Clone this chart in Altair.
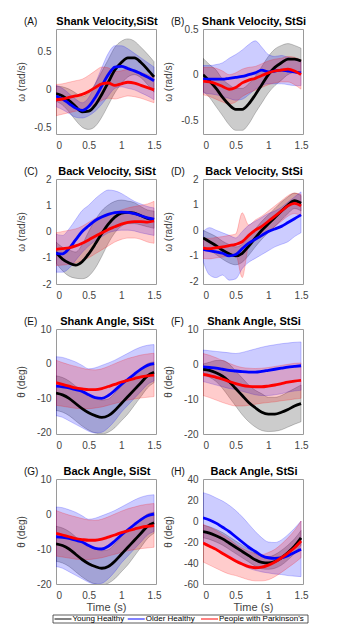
import altair as alt
import pandas as pd

FONT = "Liberation Sans"

T = [0.0, 0.1, 0.2, 0.3, 0.4, 0.5, 0.6, 0.7, 0.8, 0.9, 1.0, 1.1, 1.2, 1.3, 1.4, 1.5]
GROUPS = ["Young Healthy", "Older Healthy", "People with Parkinson's"]
COLORS = ["#000000", "#0000ff", "#ff0000"]

LETTERS = ["(A)", "(B)", "(C)", "(D)", "(E)", "(F)", "(G)", "(H)"]
TITLES = ["Shank Velocity,SiSt", "Shank Velocity, StSi", "Back Velocity, SiSt", "Back Velocity, StSi",
          "Shank Angle, SiSt", "Shank Angle, StSi", "Back Angle, SiSt", "Back Angle, StSi"]
Y_TITLES = ["ω (rad/s)", "ω (rad/s)", "ω (rad/s)", "ω (rad/s)", "θ (deg)", "θ (deg)", "θ (deg)", "θ (deg)"]
Y_TICKS = [[-0.5, 0, 0.5], [-0.5, 0, 0.5], [-2, -1, 0, 1, 2], [-2, -1, 0, 1, 2],
           [-20, -10, 0, 10], [-20, -10, 0, 10], [-20, -10, 0, 10], [-60, -40, -20, 0, 20, 40]]
Y_DOMAINS = [[-0.58, 0.8], [-0.65, 0.5], [-2, 2], [-2.1, 2], [-20.3, 10], [-20, 10], [-20, 10], [-60, 40]]
X_TICKS = [0, 0.5, 1, 1.5]

# ---- (A) Shank Velocity, SiSt ----
MEAN_A = {
    "Young Healthy": [-0.05, -0.08, -0.14, -0.22, -0.29, -0.28, -0.20, -0.06, 0.10, 0.26, 0.36, 0.42, 0.42, 0.36, 0.27, 0.17],
    "Older Healthy": [-0.08, -0.12, -0.18, -0.24, -0.27, -0.22, -0.10, 0.05, 0.20, 0.30, 0.31, 0.28, 0.25, 0.21, 0.17, 0.12],
    "People with Parkinson's": [-0.13, -0.12, -0.10, -0.08, -0.06, -0.02, 0.03, 0.08, 0.09, 0.06, 0.08, 0.10, 0.09, 0.06, 0.03, 0.00],
}
LO_A = {
    "Young Healthy": [-0.15, -0.20, -0.29, -0.40, -0.49, -0.52, -0.48, -0.36, -0.20, -0.04, 0.08, 0.17, 0.20, 0.16, 0.07, -0.03],
    "Older Healthy": [-0.22, -0.26, -0.31, -0.36, -0.37, -0.34, -0.28, -0.19, -0.08, 0.02, 0.04, 0.02, 0.00, -0.04, -0.08, -0.13],
    "People with Parkinson's": [-0.34, -0.32, -0.30, -0.28, -0.26, -0.23, -0.19, -0.14, -0.11, -0.12, -0.10, -0.08, -0.09, -0.11, -0.14, -0.17],
}
HI_A = {
    "Young Healthy": [0.05, 0.04, 0.01, -0.04, -0.09, -0.04, 0.08, 0.24, 0.40, 0.56, 0.64, 0.67, 0.64, 0.56, 0.47, 0.37],
    "Older Healthy": [0.06, 0.02, -0.05, -0.12, -0.17, -0.10, 0.08, 0.29, 0.48, 0.58, 0.58, 0.54, 0.48, 0.42, 0.36, 0.30],
    "People with Parkinson's": [0.07, 0.08, 0.10, 0.12, 0.14, 0.19, 0.25, 0.30, 0.29, 0.24, 0.25, 0.27, 0.26, 0.23, 0.20, 0.17],
}

# ---- (B) Shank Velocity, StSi ----
MEAN_B = {
    "Young Healthy": [0.00, -0.07, -0.15, -0.25, -0.33, -0.38, -0.38, -0.32, -0.22, -0.11, 0.00, 0.08, 0.13, 0.17, 0.17, 0.15],
    "Older Healthy": [-0.05, -0.05, -0.05, -0.05, -0.04, -0.03, -0.02, 0.00, 0.02, 0.05, 0.03, 0.04, 0.05, 0.04, 0.03, 0.02],
    "People with Parkinson's": [-0.07, -0.08, -0.10, -0.13, -0.16, -0.14, -0.09, -0.06, -0.04, -0.01, 0.02, 0.04, 0.05, 0.06, 0.04, 0.00],
}
LO_B = {
    "Young Healthy": [-0.18, -0.25, -0.35, -0.45, -0.55, -0.61, -0.61, -0.54, -0.42, -0.31, -0.20, -0.12, -0.06, 0.00, 0.02, 0.01],
    "Older Healthy": [-0.20, -0.21, -0.22, -0.24, -0.26, -0.28, -0.27, -0.22, -0.16, -0.12, -0.10, -0.10, -0.10, -0.11, -0.12, -0.12],
    "People with Parkinson's": [-0.22, -0.24, -0.27, -0.30, -0.32, -0.30, -0.24, -0.20, -0.17, -0.14, -0.11, -0.09, -0.08, -0.08, -0.11, -0.16],
}
HI_B = {
    "Young Healthy": [0.18, 0.11, 0.05, -0.05, -0.11, -0.15, -0.15, -0.10, -0.02, 0.09, 0.20, 0.28, 0.32, 0.34, 0.32, 0.29],
    "Older Healthy": [0.10, 0.10, 0.11, 0.13, 0.18, 0.22, 0.27, 0.33, 0.37, 0.30, 0.22, 0.20, 0.21, 0.19, 0.17, 0.15],
    "People with Parkinson's": [0.08, 0.08, 0.07, 0.04, 0.00, 0.02, 0.06, 0.08, 0.09, 0.12, 0.15, 0.17, 0.18, 0.20, 0.19, 0.16],
}

# ---- (C) Back Velocity, SiSt ----
MEAN_C = {
    "Young Healthy": [-0.80, -1.05, -1.20, -1.28, -1.15, -0.85, -0.48, -0.08, 0.28, 0.55, 0.70, 0.73, 0.70, 0.60, 0.50, 0.45],
    "Older Healthy": [-0.83, -0.85, -0.65, -0.32, 0.00, 0.22, 0.42, 0.55, 0.65, 0.72, 0.74, 0.73, 0.68, 0.60, 0.52, 0.47],
    "People with Parkinson's": [-0.68, -0.65, -0.62, -0.55, -0.45, -0.32, -0.18, -0.05, 0.08, 0.18, 0.28, 0.35, 0.38, 0.38, 0.36, 0.40],
}
LO_C = {
    "Young Healthy": [-1.20, -1.50, -1.70, -1.78, -1.80, -1.70, -1.40, -0.95, -0.45, -0.05, 0.20, 0.30, 0.30, 0.25, 0.18, 0.12],
    "Older Healthy": [-1.55, -1.55, -1.40, -1.10, -0.80, -0.55, -0.35, -0.20, -0.05, 0.02, 0.05, 0.05, 0.02, -0.05, -0.10, -0.15],
    "People with Parkinson's": [-1.30, -1.28, -1.25, -1.20, -1.10, -1.00, -0.85, -0.70, -0.55, -0.40, -0.30, -0.25, -0.25, -0.30, -0.40, -0.45],
}
HI_C = {
    "Young Healthy": [-0.40, -0.60, -0.70, -0.78, -0.50, 0.00, 0.44, 0.79, 1.01, 1.15, 1.20, 1.16, 1.10, 0.95, 0.82, 0.78],
    "Older Healthy": [-0.10, -0.15, 0.10, 0.45, 0.80, 1.00, 1.25, 1.45, 1.58, 1.55, 1.45, 1.30, 1.15, 1.05, 0.95, 0.90],
    "People with Parkinson's": [-0.05, 0.00, 0.05, 0.10, 0.20, 0.35, 0.50, 0.60, 0.70, 0.75, 0.82, 0.90, 0.95, 1.00, 1.05, 1.15],
}

# ---- (D) Back Velocity, StSi ----
MEAN_D = {
    "Young Healthy": [-0.30, -0.45, -0.60, -0.78, -0.92, -1.00, -0.90, -0.62, -0.30, 0.00, 0.25, 0.50, 0.75, 0.98, 1.15, 1.05],
    "Older Healthy": [-0.75, -0.80, -0.85, -0.90, -1.00, -0.95, -0.72, -0.50, -0.35, -0.20, -0.05, 0.05, 0.15, 0.30, 0.45, 0.60],
    "People with Parkinson's": [-0.70, -0.72, -0.68, -0.65, -0.60, -0.55, -0.45, -0.20, 0.00, 0.15, 0.35, 0.55, 0.75, 0.95, 1.05, 0.95],
}
LO_D = {
    "Young Healthy": [-0.60, -0.78, -0.95, -1.13, -1.28, -1.35, -1.25, -0.98, -0.65, -0.35, -0.10, 0.15, 0.40, 0.65, 0.85, 0.75],
    "Older Healthy": [-1.20, -1.75, -1.85, -1.75, -1.95, -1.90, -1.50, -1.25, -1.10, -0.95, -0.80, -0.65, -0.55, -0.45, -0.25, -0.10],
    "People with Parkinson's": [-1.10, -1.12, -1.08, -1.05, -1.00, -0.95, -1.85, -0.60, -0.40, -0.25, -0.05, 0.15, 0.35, 0.55, 0.65, 0.55],
}
HI_D = {
    "Young Healthy": [0.00, -0.12, -0.25, -0.43, -0.56, -0.65, -0.55, -0.26, 0.05, 0.35, 0.60, 0.85, 1.10, 1.30, 1.45, 1.35],
    "Older Healthy": [-0.05, 0.10, 0.00, -0.10, -0.20, -0.30, -0.05, 0.20, 0.35, 0.50, 0.65, 0.75, 0.90, 1.10, 1.30, 1.50],
    "People with Parkinson's": [-0.30, -0.32, -0.28, -0.25, -0.20, -0.15, 0.68, 0.20, 0.40, 0.55, 0.75, 0.95, 1.15, 1.35, 1.45, 1.40],
}

# ---- (E) Shank Angle, SiSt ----
MEAN_E = {
    "Young Healthy": [-8.5, -9.0, -10.0, -11.5, -13.0, -14.2, -15.0, -15.5, -15.0, -13.5, -11.5, -9.5, -7.5, -5.5, -3.5, -2.5],
    "Older Healthy": [-6.5, -6.7, -7.0, -7.5, -8.0, -9.0, -9.8, -10.0, -9.2, -7.7, -6.0, -4.5, -3.0, -1.6, -0.5, 0.0],
    "People with Parkinson's": [-5.5, -6.0, -6.5, -7.0, -7.3, -7.5, -7.5, -7.2, -6.6, -6.0, -5.3, -4.8, -4.3, -3.8, -3.5, -3.3],
}
LO_E = {
    "Young Healthy": [-13.5, -14.0, -15.0, -16.5, -18.0, -19.2, -20.0, -20.3, -19.8, -18.5, -16.5, -14.5, -12.0, -9.5, -7.0, -5.5],
    "Older Healthy": [-15.0, -15.5, -16.5, -17.5, -18.5, -19.5, -20.0, -19.8, -18.5, -16.5, -14.0, -12.0, -10.0, -8.0, -6.0, -5.0],
    "People with Parkinson's": [-12.0, -12.3, -12.6, -12.9, -13.0, -13.0, -12.8, -12.5, -12.0, -11.5, -11.0, -10.5, -10.2, -9.9, -9.7, -9.5],
}
HI_E = {
    "Young Healthy": [-3.5, -4.0, -5.0, -6.5, -8.0, -9.2, -10.0, -10.5, -10.2, -8.5, -6.5, -4.5, -3.0, -1.5, 0.0, 0.5],
    "Older Healthy": [2.0, 1.8, 1.2, 0.5, -0.5, -1.5, -1.2, -0.5, 0.2, 1.0, 2.0, 3.0, 4.0, 4.8, 5.3, 5.5],
    "People with Parkinson's": [1.0, 0.3, -0.3, -0.8, -1.3, -1.7, -1.8, -1.5, -0.8, 0.0, 0.8, 1.5, 2.0, 2.5, 2.8, 3.0],
}

# ---- (F) Shank Angle, StSi ----
MEAN_F = {
    "Young Healthy": [-1.5, -1.8, -2.5, -3.5, -5.0, -7.0, -9.0, -11.0, -12.5, -13.8, -14.3, -14.3, -13.8, -13.0, -12.0, -11.3],
    "Older Healthy": [-0.8, -1.0, -1.2, -1.5, -1.8, -2.0, -2.2, -2.3, -2.3, -2.1, -1.8, -1.5, -1.2, -0.9, -0.7, -0.5],
    "People with Parkinson's": [-3.0, -3.3, -3.8, -4.3, -5.0, -5.6, -6.1, -6.4, -6.5, -6.5, -6.3, -6.0, -5.6, -5.2, -4.9, -4.7],
}
LO_F = {
    "Young Healthy": [-3.0, -3.8, -5.0, -7.0, -9.5, -12.0, -14.5, -16.5, -18.0, -19.0, -19.3, -19.2, -18.8, -18.0, -17.2, -16.5],
    "Older Healthy": [-5.0, -5.5, -6.0, -6.5, -7.0, -7.3, -7.8, -8.3, -8.8, -9.0, -9.0, -8.8, -8.5, -8.0, -7.7, -7.5],
    "People with Parkinson's": [-9.0, -9.6, -10.3, -11.0, -11.6, -12.0, -12.0, -11.8, -11.5, -11.2, -11.0, -10.8, -10.5, -10.3, -10.0, -9.8],
}
HI_F = {
    "Young Healthy": [0.0, 0.5, 1.0, 1.0, 0.0, -2.0, -4.0, -6.0, -7.5, -8.5, -9.5, -9.5, -9.0, -8.0, -7.0, -6.0],
    "Older Healthy": [4.0, 3.8, 3.6, 3.4, 3.2, 3.0, 3.3, 3.8, 4.3, 4.8, 5.2, 5.5, 5.8, 6.0, 6.2, 6.3],
    "People with Parkinson's": [3.0, 2.5, 1.8, 1.0, 0.2, -0.5, -1.0, -1.2, -1.3, -1.2, -1.0, -0.7, -0.4, -0.1, 0.2, 0.3],
}

# ---- (G) Back Angle, SiSt (same curves as drawn in E) ----
MEAN_G = {
    "Young Healthy": [-8.5, -9.0, -10.0, -11.5, -13.0, -14.2, -15.0, -15.5, -15.0, -13.5, -11.5, -9.5, -7.5, -5.5, -3.5, -2.5],
    "Older Healthy": [-6.5, -6.7, -7.0, -7.5, -8.0, -9.0, -9.8, -10.0, -9.2, -7.7, -6.0, -4.5, -3.0, -1.6, -0.5, 0.0],
    "People with Parkinson's": [-5.5, -6.0, -6.5, -7.0, -7.3, -7.5, -7.5, -7.2, -6.6, -6.0, -5.3, -4.8, -4.3, -3.8, -3.5, -3.3],
}
LO_G = {
    "Young Healthy": [-13.5, -14.0, -15.0, -16.5, -18.0, -19.2, -20.0, -20.3, -19.8, -18.5, -16.5, -14.5, -12.0, -9.5, -7.0, -5.5],
    "Older Healthy": [-15.0, -15.5, -16.5, -17.5, -18.5, -19.5, -20.0, -19.8, -18.5, -16.5, -14.0, -12.0, -10.0, -8.0, -6.0, -5.0],
    "People with Parkinson's": [-12.0, -12.3, -12.6, -12.9, -13.0, -13.0, -12.8, -12.5, -12.0, -11.5, -11.0, -10.5, -10.2, -9.9, -9.7, -9.5],
}
HI_G = {
    "Young Healthy": [-3.5, -4.0, -5.0, -6.5, -8.0, -9.2, -10.0, -10.5, -10.2, -8.5, -6.5, -4.5, -3.0, -1.5, 0.0, 0.5],
    "Older Healthy": [2.0, 1.8, 1.2, 0.5, -0.5, -1.5, -1.2, -0.5, 0.2, 1.0, 2.0, 3.0, 4.0, 4.8, 5.3, 5.5],
    "People with Parkinson's": [1.0, 0.3, -0.3, -0.8, -1.3, -1.7, -1.8, -1.5, -0.8, 0.0, 0.8, 1.5, 2.0, 2.5, 2.8, 3.0],
}

# ---- (H) Back Angle, StSi ----
MEAN_H = {
    "Young Healthy": [-10, -11.5, -14, -17, -21, -25, -29, -33, -37, -39.5, -40, -38.5, -35, -30, -24, -16],
    "Older Healthy": [3.0, 1.0, -2.0, -6.0, -10.0, -15.0, -20.0, -25.0, -29.0, -33.0, -35.0, -35.5, -35.0, -33.0, -30.0, -27.0],
    "People with Parkinson's": [-21, -24, -27, -31, -34.5, -38, -41, -43.5, -44.5, -44, -42, -39, -35, -30.5, -25.5, -19],
}
LO_H = {
    "Young Healthy": [-16, -17.5, -20, -23, -27, -31, -35, -39, -43, -45.5, -46, -45, -42, -37, -31, -23],
    "Older Healthy": [-20, -23, -27, -31, -35, -39, -42, -45, -47, -48.5, -49.5, -50.5, -51, -52, -52.5, -53],
    "People with Parkinson's": [-39, -42, -45, -48, -50.5, -52, -54, -56, -57, -57, -56, -53, -49, -44.5, -40, -35],
}
HI_H = {
    "Young Healthy": [-4, -5.5, -8, -11, -15, -19, -23, -27, -31, -33.5, -34, -32, -28, -23, -17, -9],
    "Older Healthy": [27, 25, 22, 19, 15, 10, 4, -3, -10, -16, -20, -20.5, -18, -13, -7, 0],
    "People with Parkinson's": [-3, -6, -9, -13, -17, -22, -26, -29, -31, -32, -30, -27, -22, -16, -9, 0],
}

MEANS = [MEAN_A, MEAN_B, MEAN_C, MEAN_D, MEAN_E, MEAN_F, MEAN_G, MEAN_H]
LOS = [LO_A, LO_B, LO_C, LO_D, LO_E, LO_F, LO_G, LO_H]
HIS = [HI_A, HI_B, HI_C, HI_D, HI_E, HI_F, HI_G, HI_H]

color_scale = alt.Scale(domain=GROUPS, range=COLORS)


def make_panel(i):
    rows = []
    for g in GROUPS:
        for k, t in enumerate(T):
            rows.append({"group": g, "t": t, "mean": MEANS[i][g][k],
                         "lo": LOS[i][g][k], "hi": HIS[i][g][k]})
    df = pd.DataFrame(rows)
    base = alt.Chart(df)
    if i >= 6:
        x_axis = alt.Axis(values=X_TICKS, labelExpr="datum.value + ''", title="Time (s)")
    else:
        x_axis = alt.Axis(values=X_TICKS, labelExpr="datum.value + ''", title=None)
    xs = alt.X("t:Q", scale=alt.Scale(domain=[0, 1.53], nice=False, zero=False), axis=x_axis)
    yscale = alt.Scale(domain=Y_DOMAINS[i], nice=False, zero=False)
    yaxis = alt.Axis(values=Y_TICKS[i], labelExpr="datum.value + ''", title=Y_TITLES[i])

    area = base.mark_area(fillOpacity=0.2, strokeOpacity=0.3, strokeWidth=0.7,
                          interpolate="monotone", clip=True).encode(
        x=xs,
        y=alt.Y("lo:Q", scale=yscale, axis=yaxis),
        y2="hi:Q",
        fill=alt.Fill("group:N", scale=color_scale, legend=None),
        stroke=alt.Stroke("group:N", scale=color_scale, legend=None),
    )
    line = base.mark_line(strokeWidth=2.8, interpolate="monotone", clip=True).encode(
        x=xs,
        y=alt.Y("mean:Q", scale=yscale, axis=yaxis),
        color=alt.Color("group:N", scale=color_scale, sort=GROUPS, legend=None),
    )
    letter = alt.Chart(pd.DataFrame({"label": [LETTERS[i]]})).mark_text(
        align="left", baseline="middle", fontSize=10, font=FONT, color="#111111"
    ).encode(x=alt.value(-32), y=alt.value(-7), text="label:N")
    title = alt.Chart(pd.DataFrame({"label": [TITLES[i]]})).mark_text(
        align="center", baseline="middle", fontSize=11, fontWeight="bold", font=FONT, color="black"
    ).encode(x=alt.value(51), y=alt.value(-7), text="label:N")

    return alt.layer(area, line, letter, title)


def legend_layer():
    # boxed one-row legend drawn below panel (G), spanning under both columns
    legend_df = pd.DataFrame({"group": GROUPS})
    lx = alt.X("group:N", sort=GROUPS, axis=None,
               scale=alt.Scale(type="point", domain=GROUPS, range=[7, 153.5], padding=0))
    box = alt.Chart(pd.DataFrame({"k": [0]})).mark_rect(
        fill="white", stroke="#333333", strokeWidth=0.8
    ).encode(x=alt.value(-3), x2=alt.value(252), y=alt.value(136), y2=alt.value(144))
    sym = alt.Chart(legend_df).mark_tick(orient="horizontal", size=17, thickness=1.4).encode(
        x=lx, y=alt.value(140),
        color=alt.Color("group:N", scale=color_scale, sort=GROUPS, legend=None),
    )
    txt = alt.Chart(legend_df).mark_text(
        align="left", baseline="middle", dx=9.5, fontSize=8, font=FONT, color="black"
    ).encode(x=lx, y=alt.value(140.3), text="group:N")
    return alt.layer(box, sym, txt)


charts = []
for i in range(8):
    p = make_panel(i)
    if i == 6:
        p = alt.layer(p, legend_layer()).resolve_scale(x="independent")
    charts.append(p.properties(width=100, height=105))

chart = alt.concat(
    *charts, columns=2, spacing={"row": 45, "column": 47}, bounds="flush"
).properties(
    padding={"left": 7, "top": 7, "right": 0, "bottom": 0}
).configure_view(
    stroke="#9a9a9a", strokeWidth=1
).configure_axis(
    grid=False, domain=False, ticks=False, tickSize=0,
    labelFont=FONT, labelFontSize=10, labelColor="#444444",
    titleFont=FONT, titleFontSize=10, titleFontWeight="normal", titleColor="#444444",
).configure_axisY(
    labelPadding=5, minExtent=24, maxExtent=24, titlePadding=6
).configure_axisX(
    labelPadding=6, titlePadding=1, titleFontSize=11
)

chart.save("out.html", embed_options={"renderer": "svg", "actions": False})
